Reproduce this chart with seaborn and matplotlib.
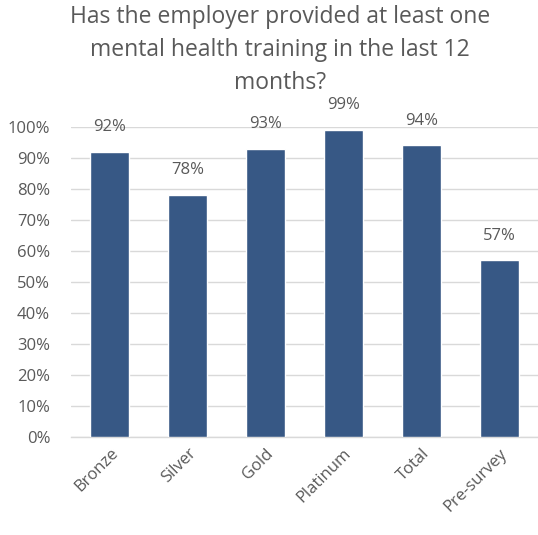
import matplotlib
matplotlib.use("Agg")
import matplotlib.pyplot as plt
import seaborn as sns
import pandas as pd
from matplotlib.ticker import PercentFormatter, MultipleLocator

categories = ["Bronze", "Silver", "Gold", "Platinum", "Total", "Pre-survey"]
values = [92, 78, 93, 99, 94, 57]
title = "Has the employer provided at least one\nmental health training in the last 12\nmonths?"

df = pd.DataFrame({"category": categories, "value": values})

sns.set_theme(style="white")
plt.rcParams["font.family"] = ["Open Sans", "DejaVu Sans"]

text_color = "#595959"
bar_color = "#375885"
grid_color = "#d9d9d9"

fig = plt.figure(figsize=(5.38, 5.35), dpi=100)
ax = fig.add_axes([0.132, 0.183, 0.868, 0.58])

sns.barplot(data=df, x="category", y="value", color=bar_color, width=0.5,
            saturation=1, ax=ax, zorder=3)

ax.set_ylim(0, 100)
ax.yaxis.set_major_locator(MultipleLocator(10))
ax.yaxis.set_major_formatter(PercentFormatter(decimals=0))
ax.grid(axis="y", color=grid_color, linewidth=1, zorder=0)
ax.set_axisbelow(True)
for s in ["top", "right", "left"]:
    ax.spines[s].set_visible(False)
ax.spines["bottom"].set_color(grid_color)
ax.spines["bottom"].set_linewidth(1)
ax.set_xlabel("")
ax.set_ylabel("")
ax.tick_params(axis="y", length=0, labelsize=12, labelcolor=text_color, pad=15)
ax.tick_params(axis="x", length=0, labelsize=12, labelcolor=text_color, pad=6)
plt.setp(ax.get_xticklabels(), rotation=45, ha="right", rotation_mode="anchor")

for container in ax.containers:
    ax.bar_label(container, labels=[f"{v:g}%" for v in values], padding=12,
                 fontsize=12, color=text_color)

fig.text(0.52, 0.99, title, ha="center", va="top", fontsize=16.5,
         color=text_color, linespacing=1.5)

fig.savefig("out.png", dpi=100, facecolor="white")
